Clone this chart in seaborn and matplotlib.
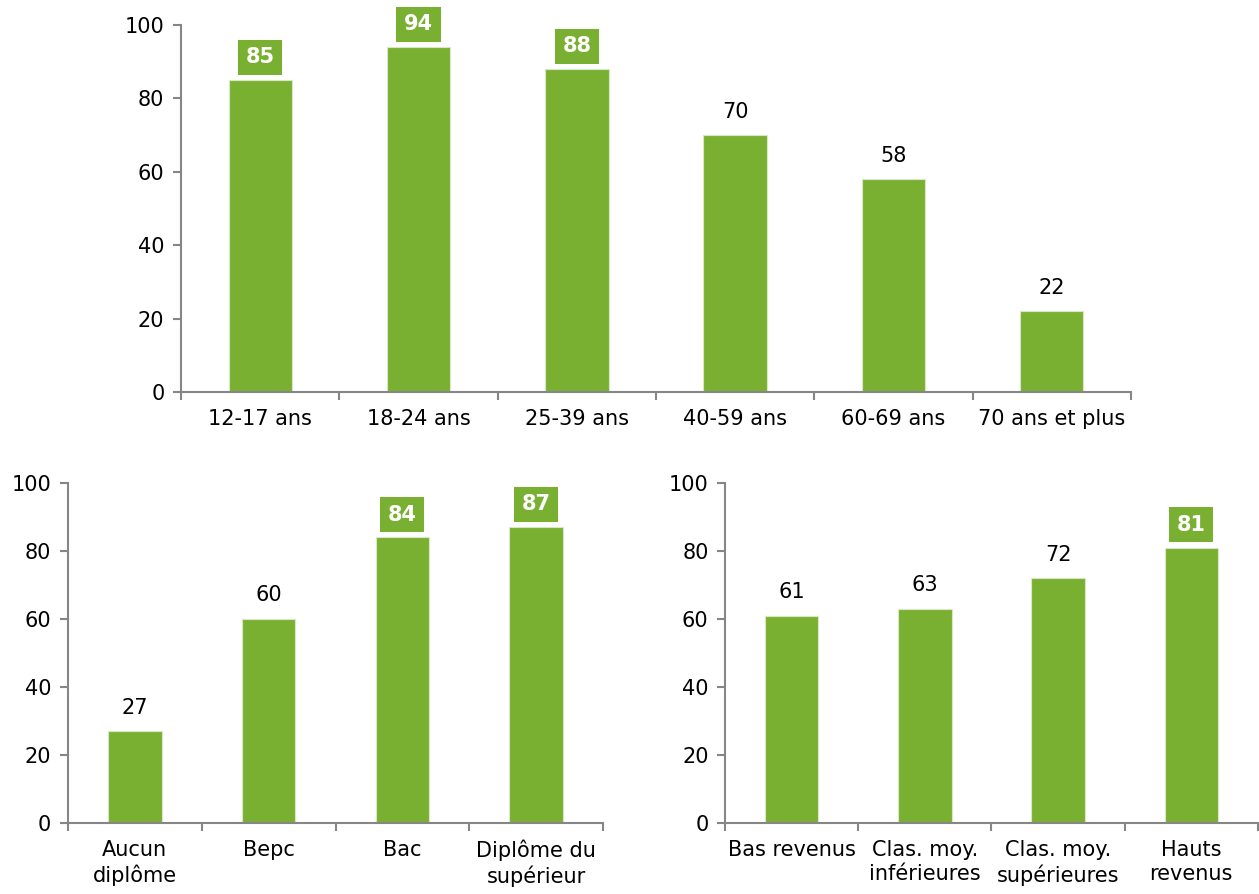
import numpy as np
import pandas as pd
import matplotlib.pyplot as plt
import seaborn as sns

# --- data ---
age_labels = ['12-17 ans', '18-24 ans', '25-39 ans', '40-59 ans', '60-69 ans', '70 ans et plus']
age_values = [85, 94, 88, 70, 58, 22]
age_highlight = [True, True, True, False, False, False]

dipl_labels = ['Aucun\ndiplôme', 'Bepc', 'Bac', 'Diplôme du\nsupérieur']
dipl_values = [27, 60, 84, 87]
dipl_highlight = [False, False, True, True]

rev_labels = ['Bas revenus', 'Clas. moy.\ninférieures', 'Clas. moy.\nsupérieures', 'Hauts\nrevenus']
rev_values = [61, 63, 72, 81]
rev_highlight = [False, False, False, True]

GREEN = '#7AB032'
GREY = '#868686'
FS = 15

sns.set_style('ticks')
plt.rcParams['font.family'] = ['DejaVu Sans']


def draw(ax, labels, values, highlight):
    df = pd.DataFrame({'cat': labels, 'val': values})
    sns.barplot(data=df, x='cat', y='val', color=GREEN, saturation=1,
                width=0.4, edgecolor='#d8e8c4', linewidth=0.8, ax=ax)
    n = len(labels)
    ax.set_xlim(-0.5, n - 0.5)
    ax.set_ylim(0, 100)
    ax.set_yticks([0, 20, 40, 60, 80, 100])
    ax.set_xlabel('')
    ax.set_ylabel('')
    ax.set_xticks(np.arange(n))
    ax.set_xticklabels(labels, fontsize=FS, linespacing=1.25)
    ax.set_xticks(np.arange(n + 1) - 0.5, minor=True)
    ax.tick_params(axis='x', which='major', length=0, pad=12, labelcolor='black')
    ax.tick_params(axis='x', which='minor', length=6, width=1.5, color=GREY)
    ax.tick_params(axis='y', length=6, width=1.5, color=GREY, labelsize=FS, pad=6,
                   labelcolor='black')
    sns.despine(ax=ax)
    for side in ['left', 'bottom']:
        ax.spines[side].set_color(GREY)
        ax.spines[side].set_linewidth(1.5)
    for i, (v, h) in enumerate(zip(values, highlight)):
        if h:
            ax.annotate(str(v), (i, v), xytext=(0, 16.5), textcoords='offset points',
                        ha='center', va='center', fontsize=FS, fontweight='bold', color='white',
                        bbox=dict(boxstyle='square,pad=0.36', fc=GREEN, ec='none'))
        else:
            ax.annotate(str(v), (i, v), xytext=(0, 17), textcoords='offset points',
                        ha='center', va='center', fontsize=FS, color='black')


fig = plt.figure(figsize=(12.59, 8.94), dpi=100)
ax1 = fig.add_axes([0.1438, 0.5615, 0.7545, 0.4105])
ax2 = fig.add_axes([0.054, 0.0794, 0.425, 0.3803])
ax3 = fig.add_axes([0.576, 0.0794, 0.423, 0.3803])

draw(ax1, age_labels, age_values, age_highlight)
draw(ax2, dipl_labels, dipl_values, dipl_highlight)
draw(ax3, rev_labels, rev_values, rev_highlight)

fig.savefig('out.png', dpi=100)
